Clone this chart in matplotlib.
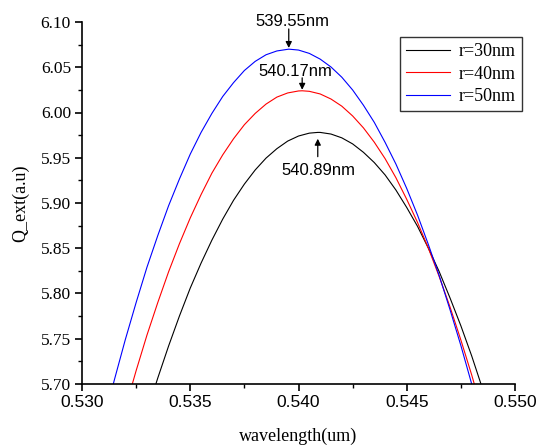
import matplotlib
matplotlib.use("Agg")
import matplotlib.pyplot as plt
from matplotlib.ticker import MultipleLocator, FormatStrFormatter

# wavelength (um) and extinction values
wl_30 = [0.533, 0.5335, 0.534, 0.5345, 0.535, 0.5355, 0.536, 0.5365, 0.537, 0.5375,
         0.538, 0.5385, 0.539, 0.5395, 0.540, 0.5405, 0.54089, 0.541, 0.5415,
         0.542, 0.5425, 0.543, 0.5435, 0.544, 0.5445, 0.545, 0.5455, 0.546,
         0.5465, 0.547, 0.5475, 0.548, 0.5485, 0.549]
q_30 = [5.669, 5.7066, 5.742, 5.7751, 5.806, 5.8336, 5.859, 5.8822, 5.903, 5.9209,
        5.9365, 5.9496, 5.960, 5.9684, 5.974, 5.9772, 5.978, 5.978, 5.9762,
        5.972, 5.9653, 5.956, 5.9447, 5.931, 5.9143, 5.895, 5.8741, 5.850,
        5.8241, 5.795, 5.7643, 5.731, 5.6948, 5.656]

wl_40 = [0.532, 0.5325, 0.533, 0.5335, 0.534, 0.5345, 0.535, 0.5355, 0.536, 0.5365,
         0.537, 0.5375, 0.538, 0.5385, 0.539, 0.5395, 0.540, 0.54017, 0.5405,
         0.541, 0.5415, 0.542, 0.5425, 0.543, 0.5435, 0.544, 0.5445, 0.545,
         0.5455, 0.546, 0.5465, 0.547, 0.5475, 0.548, 0.5485, 0.549]
q_40 = [5.673, 5.7147, 5.754, 5.790, 5.824, 5.855, 5.8835, 5.9093, 5.933, 5.9532,
        5.971, 5.9865, 5.999, 6.0093, 6.017, 6.0216, 6.0238, 6.024, 6.0234,
        6.0205, 6.0149, 6.007, 5.9962, 5.983, 5.9672, 5.949, 5.9279, 5.904,
        5.8784, 5.850, 5.8186, 5.785, 5.7486, 5.710, 5.6683, 5.624]

wl_50 = [0.531, 0.5315, 0.532, 0.5325, 0.533, 0.5335, 0.534, 0.5345, 0.535, 0.5355,
         0.536, 0.5365, 0.537, 0.5375, 0.538, 0.5385, 0.539, 0.53955, 0.540,
         0.5405, 0.541, 0.5415, 0.542, 0.5425, 0.543, 0.5435, 0.544, 0.5445,
         0.545, 0.5455, 0.546, 0.5465, 0.547, 0.5475, 0.548, 0.5485, 0.549]
q_50 = [5.659, 5.705, 5.749, 5.790, 5.829, 5.864, 5.897, 5.9265, 5.954, 5.978,
        5.999, 6.0177, 6.033, 6.0464, 6.0565, 6.0638, 6.068, 6.070, 6.069,
        6.0653, 6.059, 6.0503, 6.039, 6.0249, 6.008, 5.9891, 5.967, 5.943,
        5.916, 5.8865, 5.854, 5.8197, 5.782, 5.7425, 5.700, 5.655, 5.607]

labels = ["r=30nm", "r=40nm", "r=50nm"]
colors = ["black", "red", "blue"]

# peak annotations: (label, peak x, arrow tail y, arrow tip y, text x, text y)
peaks = [("539.55nm", 0.53955, 6.0923, 6.0713, 0.53972, 6.101),
         ("540.17nm", 0.54017, 6.0383, 6.0251, 0.53986, 6.0449),
         ("540.89nm", 0.54089, 5.9512, 5.9710, 0.54093, 5.936)]

SERIF = "Liberation Serif"
SANS = "Liberation Sans"

fig = plt.figure(figsize=(5.36, 4.46), dpi=100, facecolor="white")
ax = fig.add_axes([82/536, 1 - 384/446, (515 - 82)/536, (384 - 22)/446])

for wl, q, lbl, c in zip([wl_30, wl_40, wl_50], [q_30, q_40, q_50], labels, colors):
    ax.plot(wl, q, color=c, lw=0.8, label=lbl)

ax.set_xlim(0.530, 0.550)
ax.set_ylim(5.70, 6.10)
ax.xaxis.set_major_locator(MultipleLocator(0.005))
ax.xaxis.set_minor_locator(MultipleLocator(0.0025))
ax.yaxis.set_major_locator(MultipleLocator(0.05))
ax.yaxis.set_minor_locator(MultipleLocator(0.025))
ax.xaxis.set_major_formatter(FormatStrFormatter("%.3f"))
ax.yaxis.set_major_formatter(FormatStrFormatter("%.2f"))

for s in ["top", "right"]:
    ax.spines[s].set_visible(False)
for s in ["left", "bottom"]:
    ax.spines[s].set_linewidth(1.2)
ax.tick_params(which="major", direction="out", length=5, width=1.2, pad=3)
ax.tick_params(which="minor", direction="out", length=3, width=1.0)

for t in ax.get_xticklabels():
    t.set_fontfamily(SANS)
    t.set_fontsize(12.5)
for t in ax.get_yticklabels():
    t.set_fontfamily(SERIF)
    t.set_fontsize(12.5)

ax.set_xlabel("wavelength(um)", fontfamily=SERIF, fontsize=13, labelpad=13)
ax.set_ylabel("Q_ext(a.u)", fontfamily=SERIF, fontsize=13, labelpad=8)

for txt, px, y0, y1, tx, ty in peaks:
    ax.annotate("", xy=(px, y1), xytext=(px, y0),
                arrowprops=dict(arrowstyle="-|>", color="black", lw=0.9,
                                mutation_scale=9, shrinkA=0, shrinkB=0))
    ax.text(tx, ty, txt, ha="center", va="center", fontfamily=SANS,
            fontsize=12, clip_on=False)

leg = ax.legend(loc="upper right", bbox_to_anchor=(522/536, 1 - 37/446),
                bbox_transform=fig.transFigure, prop={"family": SERIF, "size": 13},
                frameon=True, fancybox=False, handlelength=2.4, handletextpad=0.5,
                labelspacing=0.3, borderpad=0.35, borderaxespad=0)
leg.get_frame().set_edgecolor("black")
leg.get_frame().set_linewidth(1.0)

fig.savefig("out.png", dpi=100, facecolor="white")
